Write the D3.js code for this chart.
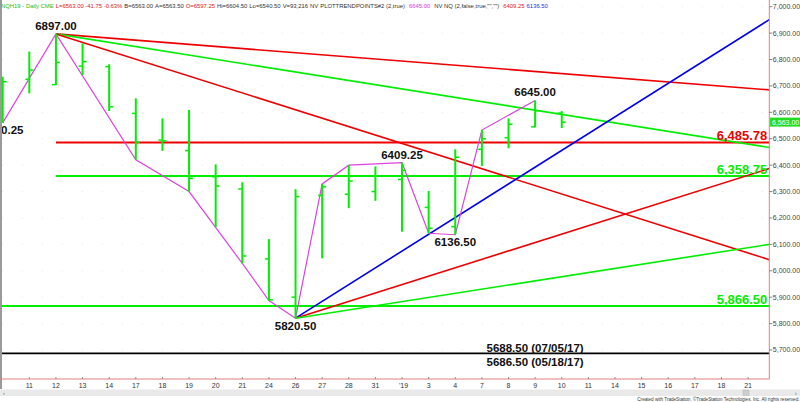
<!DOCTYPE html>
<html><head><meta charset="utf-8">
<script src="https://cdn.jsdelivr.net/npm/d3@7"></script>
<style>body{margin:0;background:#fff}svg{display:block}</style>
</head><body>
<svg id="c" width="800" height="402"></svg>
<script>
// ---------- DATA ----------
const sessions = ["Dec 10","Dec 11","Dec 12","Dec 13","Dec 14","Dec 17","Dec 18","Dec 19","Dec 20","Dec 21",
  "Dec 24","Dec 26","Dec 27","Dec 28","Dec 31","Jan 2","Jan 3","Jan 4","Jan 7","Jan 8","Jan 9","Jan 10",
  "Jan 11","Jan 14","Jan 15","Jan 16","Jan 17","Jan 18","Jan 21"];
const xTickLabels = ["","11","12","13","14","17","18","19","20","21","24","26","27","28","31","'19",
  "3","4","7","8","9","10","11","14","15","16","17","18","21"];
const yTickValues = [5700,5800,5900,6000,6100,6200,6300,6400,6500,6600,6700,6800,6900,7000];

const barDates = sessions.slice(0, 22);
const opens  = [6632,6725,6705,6775,6773,6596,6495,6455,6356,6310,6045,5900,6285,6290,6300,6346,6240,6167,6460,6504,6545,6597.25];
const highs  = [6735,6830,6897,6861,6782,6653,6577,6609,6403,6335,6120,6309,6329,6400,6395,6409.25,6302,6460,6533,6577,6645,6604.5];
const lows   = [6560.25,6672,6703,6741,6605,6420,6454,6300,6165,6028,5887,5820.5,6047,6237,6265,6148,6142,6136.5,6397,6464,6543,6540.5];
const closes = [6716,6760,6789,6792,6621,6487,6492,6350,6321,6056,5890,6281,6318,6340,6360,6380,6161,6430,6500,6555,6606,6563];

const swingDates  = ["Dec 10","Dec 12","Dec 17","Dec 19","Dec 21","Dec 24","Dec 26","Dec 27","Dec 28","Jan 2","Jan 3","Jan 4","Jan 7","Jan 9"];
const swingValues = [6560.25,6897,6420,6300,6028,5887,5820.5,6329,6400,6409.25,6142,6136.5,6533,6645];

const trendStartDates  = ["Dec 12","Dec 12","Dec 12","Dec 26","Dec 26","Dec 26"];
const trendStartValues = [6897,6897,6897,5820.5,5820.5,5820.5];
const trendEdgeValues  = [6685,6467,6042,6951,6387,6100];

const levelValues = [6485.78, 6358.75, 5866.50];
const levelStartDates = ["Dec 12","Dec 12",null];

const oldLowValues = [5688.50, 5686.50];
const oldLowTexts = ["5688.50 (07/05/17)", "5686.50 (05/18/17)"];

const pivotDates  = ["Dec 10","Dec 12","Dec 26","Jan 2","Jan 4","Jan 9"];
const pivotValues = [6560.25,6897,5820.5,6409.25,6136.5,6645];
const pivotSides  = ["below","above","below","above","below","above"];

const lastPrice = 6563.00;

const headerTexts  = ["NQH19 - Daily CME","L=6563.00 -41.75 -0.63%","B=6563.00","A=6563.50","O=6597.25",
  "Hi=6604.50","Lo=6540.50","V=93,216","NV","PLOTTRENDPOINTS#2 (2,true)","6645.00",
  "NV NQ (2,false,true,\"\",\"\")","6409.25","6136.50"];
const headerColors = ["#22bb22","#e02020","#333","#333","#e02020","#333","#333","#333","#333","#333",
  "#dd33dd","#333","#e02020","#2233dd"];

// ---------- SCALES ----------
const svg = d3.select("#c");
const FONT = "Arial, 'Liberation Sans', sans-serif";
const plotLeft = 2, plotRight = 769.3, plotTop = 0, plotBottom = 379;
const xi = d3.scaleLinear().domain([0, 28]).range([2.7, 748.1]);
const x = d => xi(sessions.indexOf(d));
const y = d3.scaleLinear().domain([5700, 7000]).range([350, 6.7]);
const edgeIndex = xi.invert(plotRight);

const GREEN = "#00ee00", RED = "#ee0000", BLUE = "#0000ee", PINK = "#dd44dd";

svg.append("rect").attr("width",800).attr("height",402).attr("fill","#fff");

const plot = svg.append("g");
plot.append("clipPath").attr("id","clip").append("rect")
  .attr("x",plotLeft).attr("y",plotTop).attr("width",plotRight-plotLeft).attr("height",plotBottom-plotTop);
const g = plot.append("g").attr("clip-path","url(#clip)");

// faint grid
g.selectAll(".grid").data(yTickValues).join("line")
  .attr("x1",plotLeft).attr("x2",plotRight)
  .attr("y1",d=>y(d)).attr("y2",d=>y(d))
  .attr("stroke","#e4e4e4").attr("stroke-width",1).attr("stroke-dasharray","1,19");

// horizontal levels
const levelColors = [RED, GREEN, GREEN];
levelValues.forEach((v,i)=>{
  g.append("line")
    .attr("x1", levelStartDates[i] ? x(levelStartDates[i]) : plotLeft).attr("x2", plotRight)
    .attr("y1", y(v)).attr("y2", y(v))
    .attr("stroke", levelColors[i]).attr("stroke-width", 2);
});
oldLowValues.forEach(v=>{
  g.append("line").attr("x1",plotLeft).attr("x2",plotRight)
    .attr("y1",y(v)).attr("y2",y(v)).attr("stroke","#000").attr("stroke-width",1.3);
});

// trend lines
const trendColors = [RED, GREEN, RED, BLUE, RED, GREEN];
trendStartDates.forEach((d,i)=>{
  g.append("line")
    .attr("x1", x(d)).attr("y1", y(trendStartValues[i]))
    .attr("x2", xi(edgeIndex)).attr("y2", y(trendEdgeValues[i]))
    .attr("stroke", trendColors[i]).attr("stroke-width", 1.6);
});

// swing line
g.append("path")
  .datum(swingDates.map((d,i)=>[x(d), y(swingValues[i])]))
  .attr("d", d3.line())
  .attr("fill","none").attr("stroke",PINK).attr("stroke-width",1.2);

// OHLC bars
barDates.forEach((d,i)=>{
  const cx = x(d);
  g.append("line").attr("x1",cx).attr("x2",cx)
    .attr("y1",y(highs[i])).attr("y2",y(lows[i]))
    .attr("stroke",GREEN).attr("stroke-width",2);
  g.append("line").attr("x1",cx-4).attr("x2",cx)
    .attr("y1",y(opens[i])).attr("y2",y(opens[i]))
    .attr("stroke",GREEN).attr("stroke-width",1.5);
  g.append("line").attr("x1",cx).attr("x2",cx+4)
    .attr("y1",y(closes[i])).attr("y2",y(closes[i]))
    .attr("stroke",GREEN).attr("stroke-width",1.5);
});

// pivot labels
pivotDates.forEach((d,i)=>{
  g.append("text")
    .attr("x", x(d)).attr("y", y(pivotValues[i]) + (pivotSides[i]==="above" ? -4 : 11.5))
    .attr("text-anchor","middle").attr("font-family",FONT)
    .attr("font-weight","bold").attr("font-size",11.5).attr("fill","#111")
    .text(pivotValues[i].toFixed(2));
});

// old lows labels
oldLowTexts.forEach((t,i)=>{
  g.append("text").attr("x", x("Jan 9")).attr("y", y(oldLowValues[i]) + (i===0 ? -1 : 12.5))
    .attr("text-anchor","middle").attr("font-family",FONT)
    .attr("font-weight","bold").attr("font-size",11.5).attr("fill","#111").text(t);
});

// level labels
const fmt = d3.format(",.2f");
levelValues.forEach((v,i)=>{
  g.append("text").attr("x", plotRight-2).attr("y", y(v)-2.5)
    .attr("text-anchor","end").attr("font-family",FONT).attr("font-weight","bold")
    .attr("font-size",13).attr("fill",levelColors[i]).text(fmt(v));
});

// left border
svg.append("line").attr("x1",1).attr("x2",1).attr("y1",0).attr("y2",389)
  .attr("stroke","#9a9a9a").attr("stroke-width",2);

// right axis
svg.append("line").attr("x1",plotRight).attr("x2",plotRight).attr("y1",0).attr("y2",plotBottom)
  .attr("stroke","#e08080").attr("stroke-width",1);
const yAxis = svg.append("g");
yTickValues.forEach(v=>{
  yAxis.append("line").attr("x1",plotRight).attr("x2",plotRight+3)
    .attr("y1",y(v)).attr("y2",y(v)).attr("stroke","#666").attr("stroke-width",0.8);
  yAxis.append("text").attr("x",plotRight+3.5).attr("y",y(v)+2.4)
    .attr("font-family",FONT).attr("font-size",7).attr("fill","#444").text(fmt(v));
});
// last price box
svg.append("rect").attr("x",770).attr("y",y(lastPrice)-4.5).attr("width",30).attr("height",9)
  .attr("fill","#22dd22");
svg.append("text").attr("x",772).attr("y",y(lastPrice)+2.4)
  .attr("font-family",FONT).attr("font-size",7).attr("fill","#fff").text(fmt(lastPrice));

// bottom axis
svg.append("line").attr("x1",0).attr("x2",plotRight).attr("y1",plotBottom).attr("y2",plotBottom)
  .attr("stroke","#e08080").attr("stroke-width",1);
sessions.forEach((d,i)=>{
  if (!xTickLabels[i]) return;
  svg.append("line").attr("x1",x(d)).attr("x2",x(d)).attr("y1",plotBottom-2).attr("y2",plotBottom)
    .attr("stroke","#777").attr("stroke-width",0.8);
  svg.append("text").attr("x",x(d)+ (i===15?1.5:0)).attr("y",387.5)
    .attr("text-anchor","middle").attr("font-family",FONT).attr("font-size",7).attr("fill","#333")
    .text(xTickLabels[i]);
});

// scrollbar
svg.append("rect").attr("x",0).attr("y",389.5).attr("width",800).attr("height",6.5).attr("fill","#e9e9e9");
svg.append("rect").attr("x",743).attr("y",390).attr("width",6).attr("height",5.5).attr("fill","#cdcdcd").attr("stroke","#b5b5b5").attr("stroke-width",0.5);
svg.append("text").attr("x",3).attr("y",395).attr("font-family",FONT).attr("font-size",5).attr("fill","#555").text("‹");
svg.append("text").attr("x",795).attr("y",395).attr("font-family",FONT).attr("font-size",5).attr("fill","#555").text("›");
svg.append("text").attr("x",799.5).attr("y",401.3).attr("text-anchor","end")
  .attr("font-family",FONT).attr("font-size",4.6).attr("fill","#333")
  .text("Created with TradeStation. ©TradeStation Technologies, Inc. All rights reserved.");

// header: laid out one after another
let hx = 1;
headerTexts.forEach((t,i)=>{
  const el = svg.append("text").attr("x",hx).attr("y",7.5).attr("font-family",FONT)
    .attr("font-size",5.9).attr("fill",headerColors[i]).text(t);
  const w = el.node().getComputedTextLength();
  hx += w + (i===9 || i===10 || i===11 ? 4 : 2);
});
</script>
</body></html>
